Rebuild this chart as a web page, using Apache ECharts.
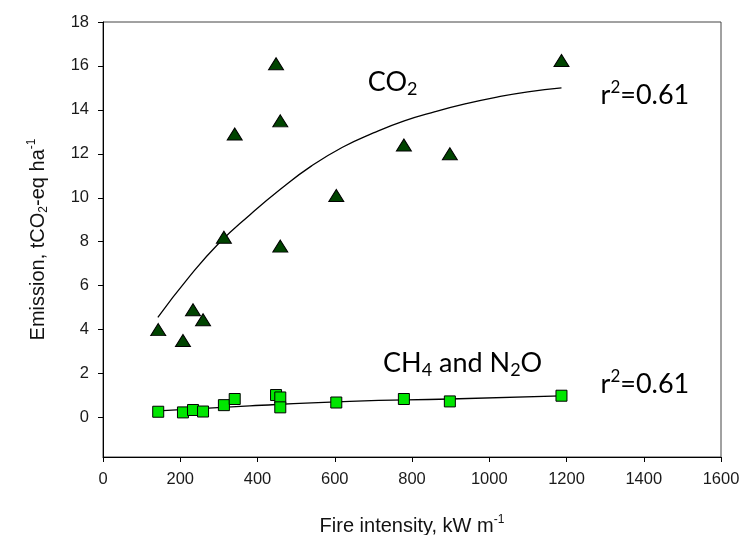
<!DOCTYPE html>
<html><head><meta charset="utf-8">
<script src="https://cdn.jsdelivr.net/npm/echarts@6/dist/echarts.min.js"></script>
<style>html,body{margin:0;padding:0;background:#fff}#c{width:755px;height:535px}</style>
</head><body><div id="c"></div>
<script>
// Observed data
const fireIntensity = [143, 207, 233, 259, 313, 341, 448, 459, 459, 604, 779, 898, 1187];
const co2Emission = [4.0, 3.5, 4.9, 4.45, 8.2, 12.9, 16.1, 13.5, 7.8, 10.1, 12.4, 12.0, 16.25];
const ch4n2oEmission = [0.26, 0.23, 0.34, 0.27, 0.56, 0.84, 1.02, 0.91, 0.46, 0.68, 0.84, 0.73, 0.99];
// Fitted curves
const co2FitX = [142, 220, 300, 380, 460, 540, 620, 700, 780, 860, 940, 1020, 1100, 1187];
const co2FitY = [4.56, 6.33, 7.93, 9.22, 10.4, 11.45, 12.3, 12.95, 13.5, 13.92, 14.28, 14.58, 14.82, 15.0];
const ch4FitX = [143, 380, 639, 898, 1187];
const ch4FitY = [0.30, 0.53, 0.73, 0.84, 0.98];
// Tick labels
const xTicks = [0, 200, 400, 600, 800, 1000, 1200, 1400, 1600];
const yTicks = [0, 2, 4, 6, 8, 10, 12, 14, 16, 18];
// Annotations (data coordinates)
const annotTexts = ['{m|CO}{sub|2}', '{m|r}{sup|2}{m|=0.61}', '{m|CH}{sub|4}{m| and N}{sub|2}{m|O}', '{m|r}{sup|2}{m|=0.61}'];
const annotX = [750, 1403, 931, 1403];
const annotY = [15.26, 14.68, 2.47, 1.53];

const zip = (a, b) => a.map((v, i) => [v, b[i]]);
const chart = echarts.init(document.getElementById('c'), null, {renderer: 'canvas'});
const axisFont = 'Liberation Sans, Arial, sans-serif';
const annRich = {
  m: {fontFamily: 'Lato', fontSize: 27, lineHeight: 32, color: '#111'},
  sub: {fontFamily: 'Lato', fontSize: 18, lineHeight: 12, verticalAlign: 'bottom', color: '#111'},
  sup: {fontFamily: 'Lato', fontSize: 17, lineHeight: 14, verticalAlign: 'top', color: '#111'}
};
const option = {
  animation: false,
  backgroundColor: '#fff',
  grid: {left: 103, right: 34, top: 22, bottom: 78, outerBoundsMode: 'none', containLabel: false,
    show: true, borderColor: '#444', borderWidth: 1},
  xAxis: {
    type: 'value', min: 0, max: 1600, interval: 200,
    name: '{t|Fire intensity, kW m}{sup|-1}', nameLocation: 'middle', nameGap: 57,
    nameTextStyle: {rich: {
      t: {fontFamily: axisFont, fontSize: 20, lineHeight: 24, color: '#111'},
      sup: {fontFamily: axisFont, fontSize: 12, lineHeight: 12, verticalAlign: 'top', color: '#111'}
    }},
    axisLine: {show: true, onZero: false, lineStyle: {color: '#000', width: 1}},
    axisTick: {show: true, inside: false, length: 5, lineStyle: {color: '#000'}},
    axisLabel: {fontFamily: axisFont, fontSize: 16.5, color: '#1a1a1a', margin: 14,
      customValues: xTicks, formatter: v => String(v)},
    splitLine: {show: false}
  },
  yAxis: {
    type: 'value', min: -1.8, max: 18,
    name: '{t|Emission, tCO}{sub|2}{t|-eq ha}{sup|-1}', nameLocation: 'middle', nameGap: 53, nameRotate: 90,
    nameTextStyle: {rich: {
      t: {fontFamily: axisFont, fontSize: 20, lineHeight: 24, color: '#111'},
      sub: {fontFamily: axisFont, fontSize: 12, lineHeight: 12, verticalAlign: 'bottom', color: '#111'},
      sup: {fontFamily: axisFont, fontSize: 12, lineHeight: 12, verticalAlign: 'top', color: '#111'}
    }},
    axisLine: {show: true, onZero: false, lineStyle: {color: '#000', width: 1}},
    axisTick: {show: true, inside: false, length: 5, lineStyle: {color: '#000'}, customValues: yTicks},
    axisLabel: {fontFamily: axisFont, fontSize: 16.5, color: '#1a1a1a', margin: 14,
      customValues: yTicks, formatter: v => String(v)},
    splitLine: {show: false}
  },
  series: [
    {type: 'line', data: zip(co2FitX, co2FitY), smooth: true, showSymbol: false, symbol: 'none',
     lineStyle: {color: '#000', width: 1.3}, z: 1},
    {type: 'line', data: zip(ch4FitX, ch4FitY), smooth: true, showSymbol: false, symbol: 'none',
     lineStyle: {color: '#000', width: 1.3}, z: 1},
    {type: 'scatter', data: zip(fireIntensity, co2Emission), symbol: 'triangle', symbolSize: [15, 12],
     itemStyle: {color: '#004400', borderColor: '#000', borderWidth: 1, opacity: 1}, z: 3},
    {type: 'scatter', data: zip(fireIntensity, ch4n2oEmission), symbol: 'rect', symbolSize: 11,
     itemStyle: {color: '#00e600', borderColor: '#000', borderWidth: 1, opacity: 1}, z: 3}
  ]
};
chart.setOption(option);
const gfx = annotTexts.map((t, i) => {
  const p = chart.convertToPixel({gridIndex: 0}, [annotX[i], annotY[i]]);
  return {type: 'text', x: p[0], y: p[1], z: 10,
    style: {text: t, rich: annRich, align: 'center', verticalAlign: 'middle'}};
});
chart.setOption({graphic: gfx});
</script></body></html>
